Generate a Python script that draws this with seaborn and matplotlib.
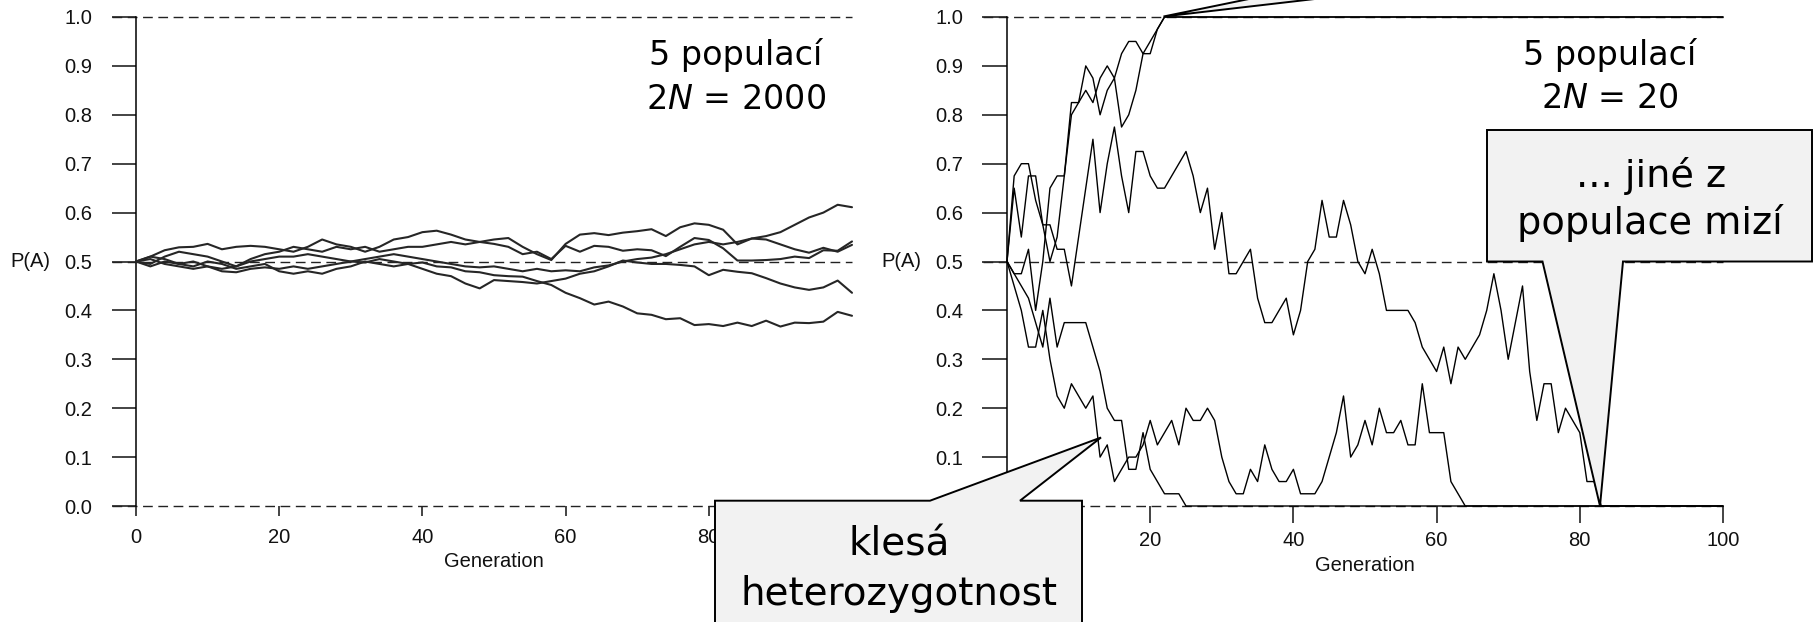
import matplotlib
matplotlib.use('Agg')
import matplotlib.pyplot as plt
from matplotlib.patches import Polygon
import numpy as np
import pandas as pd
import seaborn as sns

# --- left panel: 5 populations, 2N = 2000 (read every 2 generations) ---
gens_big = list(range(0, 101, 2))
big_1 = [0.5, 0.51, 0.523, 0.529, 0.53, 0.536, 0.525, 0.53, 0.532, 0.53,
         0.525, 0.52, 0.53, 0.545, 0.535, 0.53, 0.52, 0.53, 0.545, 0.55,
         0.56, 0.563, 0.555, 0.545, 0.54, 0.545, 0.548, 0.53, 0.515, 0.503,
         0.536, 0.555, 0.558, 0.554, 0.559, 0.562, 0.566, 0.552, 0.57, 0.578,
         0.575, 0.565, 0.535, 0.547, 0.552, 0.56, 0.575, 0.59, 0.6, 0.616, 0.611]
big_2 = [0.5, 0.495, 0.51, 0.52, 0.515, 0.51, 0.5, 0.49, 0.505, 0.515,
         0.52, 0.53, 0.525, 0.52, 0.53, 0.525, 0.53, 0.52, 0.525, 0.53,
         0.53, 0.535, 0.54, 0.535, 0.54, 0.536, 0.53, 0.515, 0.52, 0.505,
         0.532, 0.52, 0.532, 0.53, 0.522, 0.525, 0.523, 0.511, 0.53, 0.548,
         0.544, 0.527, 0.502, 0.502, 0.503, 0.505, 0.51, 0.507, 0.523, 0.522, 0.541]
big_3 = [0.5, 0.51, 0.505, 0.495, 0.5, 0.49, 0.485, 0.49, 0.5, 0.505,
         0.51, 0.51, 0.515, 0.51, 0.505, 0.5, 0.505, 0.51, 0.515, 0.51,
         0.505, 0.5, 0.495, 0.49, 0.488, 0.49, 0.485, 0.48, 0.485, 0.48,
         0.482, 0.48, 0.488, 0.492, 0.5, 0.505, 0.508, 0.515, 0.525, 0.535,
         0.54, 0.535, 0.54, 0.547, 0.545, 0.535, 0.525, 0.518, 0.528, 0.52, 0.534]
big_4 = [0.5, 0.49, 0.5, 0.495, 0.49, 0.5, 0.495, 0.485, 0.49, 0.495,
         0.48, 0.475, 0.48, 0.475, 0.485, 0.49, 0.5, 0.495, 0.49, 0.495,
         0.485, 0.475, 0.47, 0.455, 0.445, 0.462, 0.46, 0.458, 0.455, 0.46,
         0.465, 0.475, 0.48, 0.49, 0.502, 0.498, 0.495, 0.495, 0.493, 0.49,
         0.472, 0.483, 0.479, 0.476, 0.466, 0.455, 0.447, 0.442, 0.447, 0.461, 0.436]
big_5 = [0.5, 0.505, 0.495, 0.49, 0.485, 0.49, 0.48, 0.478, 0.485, 0.488,
         0.485, 0.49, 0.485, 0.49, 0.495, 0.5, 0.498, 0.505, 0.5, 0.495,
         0.498, 0.49, 0.488, 0.48, 0.478, 0.472, 0.47, 0.469, 0.46, 0.452,
         0.436, 0.425, 0.412, 0.418, 0.408, 0.394, 0.391, 0.382, 0.384, 0.37,
         0.372, 0.368, 0.375, 0.368, 0.379, 0.367, 0.375, 0.374, 0.377, 0.397, 0.389]

# --- right panel: 5 populations, 2N = 20 (every generation) ---
gens_small = list(range(0, 101))
small_fix1 = [0.5, 0.475, 0.475, 0.525, 0.4, 0.5, 0.65, 0.675, 0.675, 0.825,
              0.825, 0.85, 0.825, 0.875, 0.9, 0.875, 0.925, 0.95, 0.95, 0.925,
              0.925, 0.975, 1.0] + [1.0] * 78
small_fix2 = [0.5, 0.65, 0.55, 0.675, 0.675, 0.575, 0.5, 0.55, 0.675, 0.8,
              0.825, 0.9, 0.875, 0.8, 0.85, 0.875, 0.775, 0.8, 0.85, 0.925,
              0.95, 0.975, 1.0] + [1.0] * 78
small_mid = [0.5, 0.675, 0.7, 0.7, 0.625, 0.575, 0.575, 0.525, 0.525, 0.45,
             0.55, 0.65, 0.75, 0.6, 0.7, 0.775, 0.675, 0.6, 0.725, 0.725,
             0.675, 0.65, 0.65, 0.675, 0.7, 0.725, 0.675, 0.6, 0.65, 0.525,
             0.6, 0.475, 0.475, 0.5, 0.525, 0.425, 0.375, 0.375, 0.4, 0.425,
             0.35, 0.4, 0.5, 0.525, 0.625, 0.55, 0.55, 0.625, 0.575, 0.5,
             0.475, 0.525, 0.475, 0.4, 0.4, 0.4, 0.4, 0.375, 0.325, 0.3,
             0.275, 0.325, 0.25, 0.325, 0.3, 0.325, 0.35, 0.4, 0.475, 0.4,
             0.3, 0.375, 0.45, 0.275, 0.175, 0.25, 0.25, 0.15, 0.2, 0.175,
             0.15, 0.05, 0.05, 0.0] + [0.0] * 17
small_lost1 = [0.5, 0.475, 0.45, 0.425, 0.375, 0.325, 0.425, 0.325, 0.375, 0.375,
               0.375, 0.375, 0.325, 0.275, 0.2, 0.175, 0.175, 0.075, 0.075, 0.15,
               0.075, 0.05, 0.025, 0.025, 0.025, 0.0] + [0.0] * 75
small_lost2 = [0.5, 0.45, 0.4, 0.325, 0.325, 0.4, 0.3, 0.225, 0.2, 0.25,
               0.225, 0.2, 0.225, 0.1, 0.125, 0.05, 0.075, 0.1, 0.1, 0.125,
               0.175, 0.125, 0.15, 0.175, 0.125, 0.2, 0.175, 0.175, 0.2, 0.175,
               0.1, 0.05, 0.025, 0.025, 0.075, 0.05, 0.125, 0.075, 0.05, 0.05,
               0.075, 0.025, 0.025, 0.025, 0.05, 0.1, 0.15, 0.225, 0.1, 0.125,
               0.175, 0.125, 0.2, 0.15, 0.15, 0.175, 0.125, 0.125, 0.25, 0.15,
               0.15, 0.15, 0.05, 0.025, 0.0] + [0.0] * 36

y_ticks = [0.0, 0.1, 0.2, 0.3, 0.4, 0.5, 0.6, 0.7, 0.8, 0.9, 1.0]
x_ticks = [0, 20, 40, 60, 80, 100]


def to_long(gens, series):
    rows = []
    for i, s in enumerate(series):
        for g, p in zip(gens, s):
            rows.append((g, p, i))
    return pd.DataFrame(rows, columns=['gen', 'p', 'pop'])


def style_axes(ax, ylen, ypad, xlen, xpad, xlabelpad):
    ax.set_xlim(0, 100)
    ax.set_ylim(0, 1)
    for s in ['top', 'right', 'bottom']:
        ax.spines[s].set_visible(False)
    ax.spines['left'].set_bounds(0, 1)
    ax.spines['left'].set_linewidth(1.1)
    ax.spines['left'].set_color('black')
    ax.set_xticks(x_ticks)
    ax.set_yticks(y_ticks)
    ax.set_yticklabels(['%.1f' % v for v in y_ticks])
    ax.tick_params(axis='y', direction='out', length=ylen, width=1.1, pad=ypad,
                   labelsize=14.5, left=True)
    ax.tick_params(axis='x', direction='out', length=xlen, width=1.1, pad=xpad,
                   labelsize=14.5, bottom=True)
    for v in (0.0, 0.5, 1.0):
        ax.axhline(v, xmin=-0.034, xmax=1.0, color='#222222', lw=1.0,
                   ls=(0, (7, 4)), clip_on=False, zorder=1)
    ax.set_xlabel('Generation', fontsize=14.5, labelpad=xlabelpad)
    ax.set_ylabel('P(A)', rotation=0, ha='right', va='center', fontsize=14.5,
                  labelpad=10)


sns.set_theme(style='white')
plt.rcParams['font.family'] = ['Liberation Sans', 'DejaVu Sans']
plt.rcParams['mathtext.fontset'] = 'dejavusans'
for k in ['text.color', 'axes.labelcolor', 'xtick.color', 'ytick.color']:
    plt.rcParams[k] = '#111111'

fig = plt.figure(figsize=(18.14, 6.22), dpi=100)
W, H = 1814.0, 622.0
ax1 = fig.add_axes([136 / W, 116 / H, 716 / W, 489 / H])
ax2 = fig.add_axes([1007 / W, 116 / H, 716 / W, 489 / H])

df_big = to_long(gens_big, [big_1, big_2, big_3, big_4, big_5])
df_small = to_long(gens_small, [small_fix1, small_fix2, small_mid, small_lost1, small_lost2])

sns.lineplot(data=df_big, x='gen', y='p', units='pop', estimator=None,
             color='#262626', lw=1.5, ax=ax1, legend=False, clip_on=False, zorder=3)
sns.lineplot(data=df_small, x='gen', y='p', units='pop', estimator=None,
             color='black', lw=1.0, ax=ax2, legend=False, clip_on=False, zorder=3)

style_axes(ax1, ylen=17.3, ypad=14.4, xlen=7.2, xpad=8.5, xlabelpad=3.5)
style_axes(ax2, ylen=18.0, ypad=13.7, xlen=12.2, xpad=5.6, xlabelpad=4.5)

# overlay in pixel coordinates for the text labels and callouts
ov = fig.add_axes([0, 0, 1, 1])
ov.set_xlim(0, W)
ov.set_ylim(H, 0)
ov.axis('off')
ov.set_zorder(10)

txt = dict(family='DejaVu Sans', color='black', ha='center', va='baseline')
ov.text(736, 65.5, '5 populací', fontsize=24, **txt)
ov.text(736, 109, '2$\\it{N}$ = 2000', fontsize=24, **txt)
ov.text(1610, 65, '5 populací', fontsize=24, **txt)
ov.text(1610, 108, '2$\\it{N}$ = 20', fontsize=24, **txt)

face = '#f2f2f2'
callout_1 = [(715, 640), (715, 500.7), (930, 500.7), (1101, 437.5),
             (1020, 500.7), (1082, 500.7), (1082, 640)]
callout_2 = [(1487, 130), (1812, 130), (1812, 261.5), (1623, 261.5),
             (1600, 506), (1542.5, 261.5), (1487, 261.5)]
callout_3 = [(1163.5, 16.5), (1292.8, -10), (1392.4, -10)]
for pts in (callout_1, callout_2, callout_3):
    ov.add_patch(Polygon(pts, closed=True, facecolor=face, edgecolor='black',
                         lw=1.4, clip_on=False, joinstyle='miter'))

ov.text(899, 555, 'klesá', fontsize=28, **txt)
ov.text(899, 605, 'heterozygotnost', fontsize=28, **txt)
ov.text(1651, 187, '... jiné z', fontsize=27.5, **txt)
ov.text(1650, 234, 'populace mizí', fontsize=27.5, **txt)

fig.savefig('out.png', dpi=100)
